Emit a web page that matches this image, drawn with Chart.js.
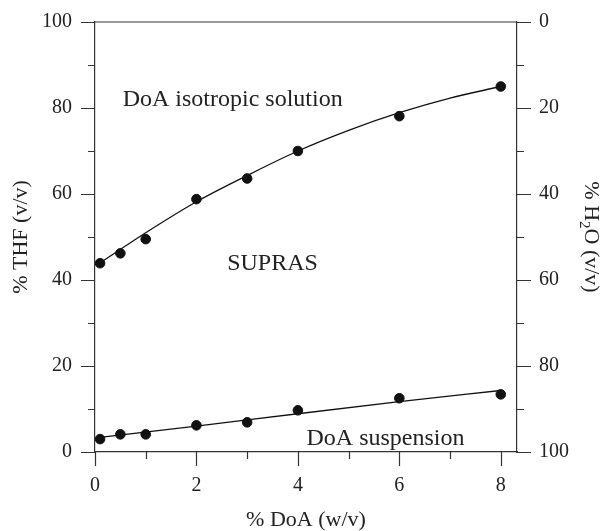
<!DOCTYPE html>
<html>
<head>
<meta charset="utf-8">
<script src="https://cdn.jsdelivr.net/npm/chart.js@4"></script>
<style>
  html, body { margin: 0; padding: 0; background: #fff; }
  #wrap { width: 604px; height: 531px; }
</style>
</head>
<body>
<div id="wrap"><canvas id="c" width="604" height="531"></canvas></div>
<script>
// ---- data ----
const doa = [0.1, 0.5, 1, 2, 3, 4, 6, 8];                       // % DoA (w/v)
const thfIsotropicBoundary = [43.9, 46.2, 49.5, 58.8, 63.6, 70.0, 78.1, 85.0]; // % THF (v/v)
const thfSuspensionBoundary = [3.0, 4.1, 4.1, 6.2, 6.9, 9.7, 12.5, 13.4];      // % THF (v/v)

// fitted curves
const fitUpperX = [0.1, 1, 2, 3, 4, 5, 6, 7, 8];
const fitUpperY = [44.0, 51.0, 58.2, 64.3, 70.0, 74.8, 78.9, 82.3, 85.0];
const fitLowerX = [0.1, 2, 4, 6, 8];
const fitLowerY = [3.4, 6.0, 8.9, 11.7, 14.3];

// axis ticks
const xTicks = [0, 2, 4, 6, 8];
const yTicks = [0, 20, 40, 60, 80, 100];
const y2Ticks = [0, 20, 40, 60, 80, 100];

// annotation texts
const labels = [
  { text: 'DoA isotropic solution', x: 0.546, y: 80.5, align: 'left' },
  { text: 'SUPRAS', x: 3.5, y: 42.3, align: 'center' },
  { text: 'DoA suspension', x: 4.17, y: 1.63, align: 'left' }
];

const SERIF = '"Liberation Serif", "Times New Roman", serif';
const INK = '#222';
const AXIS = '#333';

const pts = (xs, ys) => xs.map((x, i) => ({ x, y: ys[i] }));

const decorPlugin = {
  id: 'decor',
  beforeDatasetsDraw(chart) {
    const { ctx, chartArea: a, scales } = chart;
    ctx.save();
    ctx.strokeStyle = AXIS;
    ctx.lineWidth = 1.2;
    ctx.beginPath();
    // top frame line
    ctx.moveTo(a.left, a.top); ctx.lineTo(a.right, a.top);
    // left ticks
    for (let v = 0; v <= 100; v += 10) {
      const y = Math.round(scales.y.getPixelForValue(v)) + 0.5;
      const len = v % 20 === 0 ? 14 : 7;
      ctx.moveTo(a.left - len, y); ctx.lineTo(a.left, y);
    }
    // right ticks
    for (let v = 0; v <= 100; v += 10) {
      const y = Math.round(scales.y2.getPixelForValue(v)) + 0.5;
      const len = v % 20 === 0 ? 14 : 7;
      ctx.moveTo(a.right, y); ctx.lineTo(a.right + len, y);
    }
    // bottom ticks
    for (let v = 0; v <= 8; v += 1) {
      const x = Math.round(scales.x.getPixelForValue(v)) + 0.5;
      const len = v % 2 === 0 ? 14 : 7;
      ctx.moveTo(x, a.bottom); ctx.lineTo(x, a.bottom + len);
    }
    ctx.stroke();

    // annotations
    ctx.fillStyle = INK;
    ctx.font = '24px ' + SERIF;
    ctx.textBaseline = 'alphabetic';
    labels.forEach(l => {
      ctx.textAlign = l.align;
      ctx.fillText(l.text, scales.x.getPixelForValue(l.x), scales.y.getPixelForValue(l.y));
    });

    // axis titles
    ctx.font = '22px ' + SERIF;
    ctx.textAlign = 'center';
    ctx.fillText('% DoA (w/v)', (a.left + a.right) / 2, 526);

    ctx.save();
    ctx.translate(27, (a.top + a.bottom) / 2);
    ctx.rotate(-Math.PI / 2);
    ctx.fillText('% THF (v/v)', 0, 0);
    ctx.restore();

    // right title with subscript
    ctx.save();
    ctx.translate(585, (a.top + a.bottom) / 2);
    ctx.rotate(Math.PI / 2);
    const big = '22px ' + SERIF, small = '15px ' + SERIF;
    const parts = [['% H', big, 0], ['2', small, 5], ['O (v/v)', big, 0]];
    let total = 0;
    parts.forEach(p => { ctx.font = p[1]; total += ctx.measureText(p[0]).width; });
    let cx = -total / 2;
    ctx.textAlign = 'left';
    parts.forEach(p => {
      ctx.font = p[1];
      ctx.fillText(p[0], cx, p[2]);
      cx += ctx.measureText(p[0]).width;
    });
    ctx.restore();
    ctx.restore();
  }
};

const noPad = s => { s.paddingTop = 0; s.paddingBottom = 0; };

new Chart(document.getElementById('c'), {
  type: 'scatter',
  data: {
    datasets: [
      { data: pts(doa, thfIsotropicBoundary), backgroundColor: '#111', borderColor: '#111', pointRadius: 4.8, pointHoverRadius: 4.8, showLine: false },
      { data: pts(doa, thfSuspensionBoundary), backgroundColor: '#111', borderColor: '#111', pointRadius: 4.8, pointHoverRadius: 4.8, showLine: false },
      { data: pts(fitUpperX, fitUpperY), borderColor: '#111', borderWidth: 1.3, pointRadius: 0, showLine: true, cubicInterpolationMode: 'monotone', fill: false },
      { data: pts(fitLowerX, fitLowerY), borderColor: '#111', borderWidth: 1.3, pointRadius: 0, showLine: true, cubicInterpolationMode: 'monotone', fill: false }
    ]
  },
  options: {
    responsive: false,
    animation: false,
    events: [],
    layout: { padding: { top: 22, left: 0, right: 0, bottom: 0 } },
    plugins: { legend: { display: false }, tooltip: { enabled: false } },
    scales: {
      x: {
        type: 'linear', position: 'bottom', min: 0, max: 8.32,
        afterFit: s => { s.height = 79; s.paddingLeft = 0; s.paddingRight = 0; },
        grid: { display: false, drawTicks: false, tickLength: 0 },
        border: { display: true, color: AXIS, width: 1.2 },
        afterBuildTicks: s => { s.ticks = xTicks.map(v => ({ value: v })); },
        ticks: { padding: 22, color: INK, font: { family: SERIF, size: 20 }, maxRotation: 0 }
      },
      y: {
        type: 'linear', position: 'left', min: 0, max: 100,
        afterFit: s => { s.width = 95; noPad(s); },
        grid: { display: false, drawTicks: false, tickLength: 0 },
        border: { display: true, color: AXIS, width: 1.2 },
        afterBuildTicks: s => { s.ticks = yTicks.map(v => ({ value: v })); },
        ticks: { padding: 23, color: INK, font: { family: SERIF, size: 20 } }
      },
      y2: {
        type: 'linear', position: 'right', min: 0, max: 100, reverse: true,
        afterFit: s => { s.width = 87; noPad(s); },
        grid: { display: false, drawTicks: false, tickLength: 0 },
        border: { display: true, color: AXIS, width: 1.2 },
        afterBuildTicks: s => { s.ticks = y2Ticks.map(v => ({ value: v })); },
        ticks: { padding: 22, color: INK, font: { family: SERIF, size: 20 } }
      }
    }
  },
  plugins: [decorPlugin]
});
</script>
</body>
</html>
